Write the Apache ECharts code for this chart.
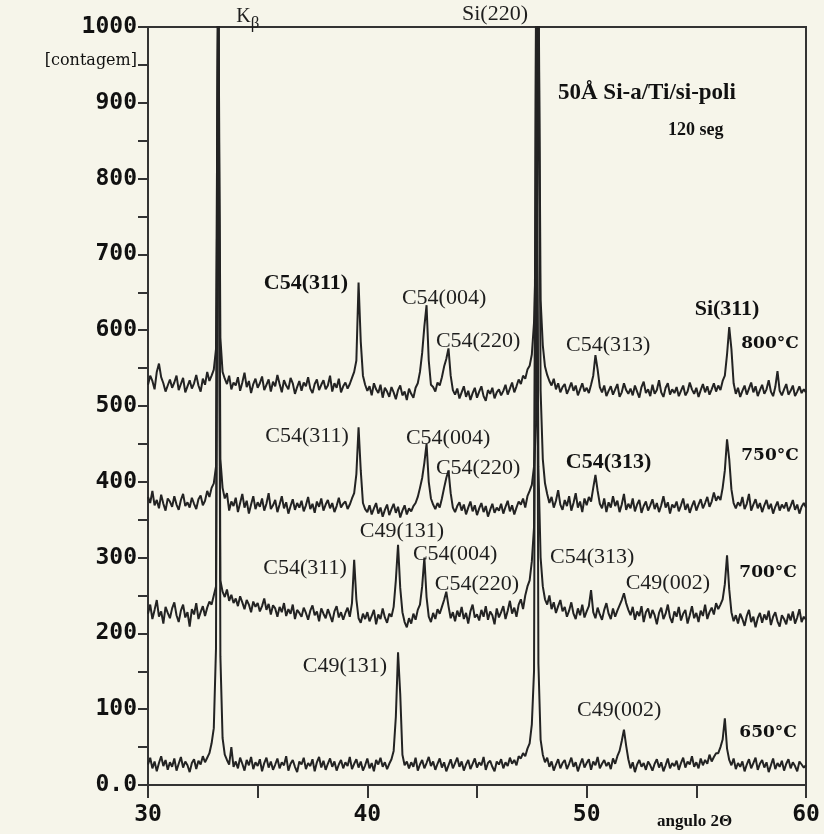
<!DOCTYPE html>
<html>
<head>
<meta charset="utf-8">
<script src="https://cdn.jsdelivr.net/npm/echarts/dist/echarts.min.js"></script>
<style>
html, body { margin: 0; padding: 0; background: #f6f5ea; }
#chart { width: 824px; height: 834px; }
</style>
</head>
<body>
<div id="chart"></div>
<script>
// scan: 30..60 deg, step 0.1 deg
var angleStart = 30, angleStep = 0.1;

var t800 = [
	528, 540, 533, 522, 545, 556, 538, 530, 519, 527,
	535, 524, 531, 540, 521, 529, 537, 518, 526, 534,
	523, 530, 541, 527, 519, 536, 528, 545, 533, 540,
	548, 575, 1100, 590, 545, 536, 529, 540, 522, 531,
	527, 538, 520, 531, 544, 525, 533, 517, 529, 536,
	524, 530, 539, 521, 528, 535, 519, 532, 526, 541,
	529, 518, 534, 527, 522, 537, 530, 516, 525, 533,
	520, 531, 526, 538, 523, 517, 529, 535, 521, 528,
	534, 522, 527, 540, 519, 530, 524, 536, 518, 526,
	531, 523, 529, 537, 545, 560, 663, 585, 540, 528,
	520, 526, 514, 530, 522, 517, 528, 511, 524, 519,
	512, 525, 518, 509, 521, 527, 514, 519, 508, 523,
	516, 511, 524, 530, 545, 570, 605, 633, 560, 528,
	525, 519, 531, 527, 538, 552, 562, 576, 540, 521,
	515, 523, 510, 518, 526, 512, 520, 508, 517, 524,
	511, 519, 526, 513, 507, 521, 516, 524, 510, 518,
	522, 514, 520, 528, 515, 523, 531, 518, 526, 535,
	529, 540, 536, 548, 553, 568, 610, 720, 1100, 640,
	580, 552, 541, 533, 527, 536, 522, 530, 518, 525,
	529, 516, 523, 531, 520, 527, 514, 522, 530, 519,
	524, 517, 528, 540, 567, 548, 525, 518, 527, 513,
	520, 526, 515, 522, 529, 512, 518, 530, 521, 516,
	523, 514, 527, 519, 511, 525, 532, 517, 522, 513,
	528, 516, 521, 534, 518, 512, 524, 530, 515, 522,
	517, 525, 513, 520, 527, 514, 519, 531, 522, 516,
	524, 512, 521, 529, 518, 526, 515, 522, 530, 519,
	527, 521, 533, 540, 568, 604, 575, 530, 516, 524,
	512, 520, 527, 515, 523, 531, 518, 526, 513, 521,
	528, 516, 522, 534, 519, 513, 525, 546, 520, 514,
	522, 529, 515, 520, 527, 513, 519, 526, 517, 522,
	518
];

var t750 = [
	380, 372, 388, 369, 376, 365, 383, 371, 362, 378,
	374, 367, 381, 370, 363, 376, 384, 368, 373, 366,
	379, 371, 364, 377, 382, 369, 375, 388, 380, 392,
	398, 420, 1100, 430, 392, 378, 385, 362, 374, 368,
	379, 360, 372, 384, 366, 375, 358, 370, 381, 364,
	373, 367, 378, 362, 371, 385, 364, 369, 376, 360,
	370, 381, 365, 373, 358, 368, 377, 363, 372, 366,
	375, 361, 369, 380, 364, 371, 359, 374, 367, 378,
	362, 370, 376, 365, 372, 360, 368, 379, 366, 371,
	374, 364, 370, 378, 385, 410, 472, 415, 372, 364,
	360, 369, 357, 365, 372, 358, 366, 354, 363, 370,
	356, 364, 371, 359, 367, 353, 362, 369, 357, 365,
	361, 368, 372, 380, 392, 405, 425, 450, 400, 378,
	370, 364, 372, 366, 378, 392, 405, 415, 385, 366,
	360, 368, 373, 362, 370, 357, 366, 374, 361, 369,
	356, 365, 372, 360, 368, 354, 363, 371, 359, 366,
	362, 371, 358, 367, 375, 361, 369, 357, 366, 374,
	370, 378, 366, 381, 388, 396, 420, 480, 1100, 520,
	430, 398, 384, 372, 380, 366, 375, 389, 370, 363,
	376, 368, 381, 362, 372, 385, 366, 374, 360, 378,
	369, 380, 374, 392, 409, 388, 371, 365, 378, 360,
	373, 366, 381, 368, 375, 360, 370, 384, 363, 371,
	365, 378, 361, 370, 376, 359, 368, 374, 362, 369,
	377, 364, 372, 360, 369, 381, 366, 373, 358, 370,
	366, 374, 361, 369, 378, 363, 371, 359, 368, 375,
	362, 370, 377, 365, 372, 380, 367, 374, 386, 375,
	381, 376, 392, 415, 456, 430, 390, 372, 365, 373,
	368, 380, 364, 371, 384, 362, 370, 377, 365, 372,
	360, 369, 376, 364, 371, 358, 367, 374, 362, 370,
	365, 373, 361, 368, 376, 363, 370, 358, 367, 372,
	366
];

var t700 = [
	226, 238, 219, 231, 244, 222, 229, 213, 235, 227,
	220, 233, 241, 224, 215, 230, 238, 221, 228, 209,
	232, 225, 240, 219, 228, 236, 223, 234, 242, 238,
	250, 262, 1100, 270, 255, 248, 258, 243, 251, 240,
	246, 236, 249, 241, 232, 244, 238, 228, 242, 235,
	240, 229, 236, 246, 231, 239, 225, 237, 233, 222,
	235, 228, 240, 223, 232, 226, 238, 219, 231, 227,
	222, 234, 227, 218, 230, 237, 224, 229, 216, 233,
	226, 220, 232, 224, 215, 229, 236, 221, 228, 218,
	227, 234, 222, 240, 297, 245, 220, 214, 226, 219,
	228, 216, 223, 231, 212, 225, 219, 233, 221, 214,
	226, 222, 235, 270, 317, 260, 228, 215, 208, 220,
	213, 226, 218, 231, 238, 262, 300, 248, 222, 215,
	227, 219, 232, 226, 235, 244, 255, 236, 220, 228,
	216, 230, 222, 235, 219, 227, 213, 229, 238, 221,
	225, 217, 231, 222, 236, 218, 229, 224, 212, 233,
	221, 228, 236, 219, 230, 243, 226, 234, 222, 238,
	245, 232, 250, 262, 270, 295, 340, 1100, 420, 300,
	262, 245, 238, 250, 232, 241, 227, 236, 244, 229,
	235, 222, 230, 241, 226, 219, 233, 224, 238, 221,
	229, 236, 257, 228, 220, 234, 225, 218, 231, 240,
	226, 219, 233, 222, 230, 237, 244, 253, 240, 231,
	224, 235, 218, 229, 223, 236, 215, 228, 233, 220,
	231, 224, 212, 227, 234, 219, 226, 238, 221, 214,
	229, 222, 235, 217, 226, 231, 213, 224, 236, 220,
	227, 215, 230, 223, 238, 219, 228, 234, 225, 240,
	232, 238, 245, 265, 303, 258, 228, 216, 224, 213,
	226, 219, 210, 223, 231, 215, 222, 208, 220, 227,
	214, 225, 218, 230, 211, 222, 228, 216, 209, 224,
	219, 212, 226, 217, 229, 213, 221, 232, 215, 222,
	218
];

var t650 = [
	27, 36, 22, 31, 18, 29, 38, 25, 33, 20,
	30, 24, 35, 19, 28, 37, 23, 31, 26, 17,
	29, 34, 21, 32, 27, 38, 30, 36, 42, 55,
	75, 180, 1100, 170, 62, 40, 33, 27, 50, 24,
	31, 22, 36, 28, 19, 33, 26, 37, 21, 30,
	25, 34, 18, 29, 36, 23, 31, 20, 27, 35,
	22, 30, 26, 38, 19, 28, 33, 24, 17, 31,
	27, 36, 21, 29, 25, 34, 18, 30, 37, 23,
	32, 20, 28, 35, 24, 31, 19, 27, 33, 22,
	30, 25, 37, 21, 28, 34, 23, 31, 19, 26,
	35, 22, 29, 18, 33, 27, 36, 24, 30, 21,
	28, 34, 45, 90, 175, 120, 40, 26, 31, 22,
	30, 24, 36, 19, 27, 33, 22, 29, 37, 25,
	31, 20, 28, 35, 23, 30, 18, 26, 34, 22,
	29, 36, 24, 31, 19, 27, 33, 21, 28, 35,
	23, 30, 26, 37, 20, 29, 32, 24, 18, 31,
	27, 34, 22, 30, 25, 36, 28, 33, 26, 38,
	35, 42, 38, 48, 55, 80, 150, 1100, 160, 60,
	40, 30, 36, 24, 31, 19, 27, 34, 22, 29,
	33, 21, 28, 36, 24, 30, 18, 27, 35, 23,
	29, 34, 20, 31, 26, 37, 22, 28, 33, 25,
	30, 21, 35, 28, 38, 45, 58, 73, 52, 34,
	22, 30, 17, 27, 33, 24, 29, 20, 31, 26,
	19, 28, 34, 23, 30, 18, 26, 35, 22, 29,
	25, 32, 20, 29, 36, 23, 31, 27, 38, 24,
	30, 22, 35, 26, 33, 28, 40, 31, 37, 42,
	42, 50, 60, 88, 48, 33, 26, 35, 21, 29,
	24, 31, 18, 27, 34, 22, 29, 36, 20, 28,
	33, 23, 30, 17, 26, 35, 21, 29, 24, 32,
	19, 28, 34, 22, 30, 25, 18, 31, 27, 23,
	26
];

// peak / curve labels: [angle, counts, text, kind]
var peakLabels = [
	[34.55, 1013, 'Kβ', 'kb'],
	[45.82, 1017, 'Si(220)', 'peak'],
	[37.2, 662, 'C54(311)', 'bold'],
	[43.5, 642, 'C54(004)', 'peak'],
	[45.05, 586, 'C54(220)', 'peak'],
	[50.98, 580, 'C54(313)', 'peak'],
	[56.4, 627, 'Si(311)', 'bold'],
	[58.36, 583, '800°C', 'temp'],
	[37.25, 460, 'C54(311)', 'peak'],
	[43.68, 458, 'C54(004)', 'peak'],
	[45.05, 418, 'C54(220)', 'peak'],
	[51.0, 426, 'C54(313)', 'bold'],
	[58.36, 435, '750°C', 'temp'],
	[41.58, 335, 'C49(131)', 'peak'],
	[44.0, 305, 'C54(004)', 'peak'],
	[37.16, 286, 'C54(311)', 'peak'],
	[45.0, 265, 'C54(220)', 'peak'],
	[50.25, 301, 'C54(313)', 'peak'],
	[53.7, 266, 'C49(002)', 'peak'],
	[58.27, 280, '700°C', 'temp'],
	[38.98, 157, 'C49(131)', 'peak'],
	[51.48, 99, 'C49(002)', 'peak'],
	[58.27, 69, '650°C', 'temp']
];

function toPairs(arr) {
	return arr.map(function (v, i) {
		return [+(angleStart + i * angleStep).toFixed(2), v];
	});
}

var ink = '#232323';
var labelStyles = {
	peak: { fontFamily: 'Liberation Serif', fontSize: 22, fontWeight: 'normal', color: '#1e1e1e' },
	bold: { fontFamily: 'Liberation Serif', fontSize: 22, fontWeight: 'bold', color: '#111' },
	temp: { fontFamily: 'DejaVu Serif', fontSize: 17, fontWeight: 'bold', color: '#111' },
	kb: {
		fontFamily: 'Liberation Serif', fontSize: 20, color: '#1e1e1e',
		rich: {
			k: { fontFamily: 'Liberation Serif', fontSize: 20, color: '#1e1e1e' },
			b: { fontFamily: 'Liberation Serif', fontSize: 17, color: '#1e1e1e', padding: [12, 0, 0, 0] }
		}
	}
};

var labelData = peakLabels.map(function (p) {
	var st = echarts.util.clone(labelStyles[p[3]]);
	st.show = true;
	st.position = 'inside';
	st.formatter = p[3] === 'kb' ? '{k|K}{b|β}' : p[2];
	return { value: [p[0], p[1]], label: st };
});

function trace(name, arr) {
	return {
		name: name,
		type: 'line',
		data: toPairs(arr),
		symbol: 'none',
		clip: true,
		lineStyle: { color: ink, width: 2 },
		z: 2
	};
}

var chart = echarts.init(document.getElementById('chart'));
var monoFont = {
	fontFamily: 'DejaVu Sans Mono',
	fontWeight: 'bold',
	fontSize: 23,
	color: '#111'
};

var option = {
	backgroundColor: '#f6f5ea',
	animation: false,
	grid: {
		left: 148, right: 18, top: 27, bottom: 49,
		show: true, borderColor: '#333', borderWidth: 2,
		backgroundColor: 'transparent'
	},
	xAxis: {
		type: 'value',
		min: 30, max: 60, interval: 10,
		axisLine: { lineStyle: { color: '#333', width: 2 } },
		axisTick: { show: true, length: 13, lineStyle: { color: '#333', width: 2 } },
		minorTick: { show: true, splitNumber: 2, length: 13, lineStyle: { color: '#333', width: 2 } },
		splitLine: { show: false },
		axisLabel: Object.assign({ margin: 19 }, monoFont)
	},
	yAxis: {
		type: 'value',
		min: 0, max: 1000, interval: 100,
		axisLine: { show: true, lineStyle: { color: '#333', width: 2 } },
		axisTick: { show: true, length: 10, lineStyle: { color: '#333', width: 2 } },
		minorTick: { show: true, splitNumber: 2, length: 10, lineStyle: { color: '#333', width: 2 } },
		splitLine: { show: false },
		axisLabel: Object.assign({
			margin: 11,
			formatter: function (v) { return v === 0 ? '0.0' : v; }
		}, monoFont)
	},
	graphic: [
		{ type: 'text', right: 687, top: 53,
		  style: { text: '[contagem]', font: '16px "DejaVu Serif"', fill: '#111' } },
		{ type: 'text', left: 558, top: 82,
		  style: { text: '50Å Si-a/Ti/si-poli', font: 'bold 23px "Liberation Serif"', fill: '#111' } },
		{ type: 'text', left: 668, top: 121,
		  style: { text: '120 seg', font: 'bold 18px "Liberation Serif"', fill: '#111' } },
		{ type: 'text', left: 657, top: 813,
		  style: { text: 'angulo 2Θ', font: 'bold 17px "Liberation Serif"', fill: '#111' } }
	],
	series: [
		trace('800°C', t800),
		trace('750°C', t750),
		trace('700°C', t700),
		trace('650°C', t650),
		{
			type: 'scatter',
			symbolSize: 0,
			clip: false,
			silent: true,
			itemStyle: { opacity: 1 },
			data: labelData,
			z: 5
		}
	]
};
chart.setOption(option);
</script>
</body>
</html>
